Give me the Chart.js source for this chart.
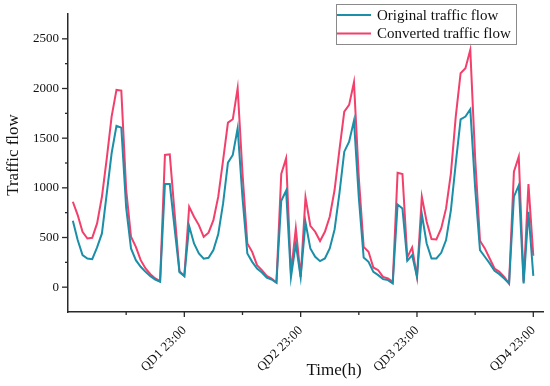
<!DOCTYPE html>
<html>
<head>
<meta charset="utf-8">
<script src="https://cdn.jsdelivr.net/npm/chart.js@4"></script>
<style>
  html, body { margin: 0; padding: 0; background: #fff; }
  #wrap { width: 550px; height: 386px; }
</style>
</head>
<body>
<div id="wrap"><canvas id="flowChart" width="550" height="386"></canvas></div>
<script>
// Hourly traffic flow over four days (QD1..QD4)
const originalFlow = [
    668, 474, 323, 289, 282, 400, 541, 944, 1348, 1623, 1606, 800, 390, 272, 205, 154, 111, 77, 54, 1038, 1038, 590, 150, 111,
    615, 440, 339, 286, 296, 373, 534, 843, 1253, 1331, 1600, 900, 339, 255, 188, 148, 97, 77, 44, 870, 971, 100, 435, 98,
    652, 390, 306, 262, 289, 390, 581, 944, 1364, 1465, 1677, 900, 299, 255, 154, 121, 81, 71, 37, 833, 793, 265, 323, 104,
    736, 440, 289, 289, 346, 474, 776, 1247, 1690, 1717, 1791, 1000, 373, 306, 239, 165, 131, 87, 37, 911, 1025, 37, 759, 114
];
const convertedFlow = [
    860, 726, 557, 490, 497, 642, 910, 1297, 1717, 1986, 1979, 980, 507, 406, 272, 188, 131, 88, 60, 1331, 1337, 740, 160, 112,
    810, 709, 625, 507, 548, 675, 911, 1280, 1656, 1690, 2003, 1150, 440, 356, 222, 171, 114, 87, 47, 1139, 1297, 140, 591, 104,
    904, 618, 558, 464, 558, 709, 978, 1381, 1767, 1835, 2063, 1100, 406, 356, 198, 171, 104, 87, 54, 1152, 1139, 299, 400, 104,
    911, 659, 484, 480, 591, 793, 1146, 1717, 2154, 2204, 2389, 1300, 467, 390, 289, 188, 154, 104, 37, 1163, 1314, 54, 1038, 316
];
const hours = originalFlow.map((_, i) => i);

const xMajorTicks = [23, 47, 71, 95];
const xTickLabels = ['QD1 23:00', 'QD2 23:00', 'QD3 23:00', 'QD4 23:00'];
const xMinorTicks = [11, 35, 59, 83];
const yMajorTicks = [0, 500, 1000, 1500, 2000, 2500];
const yMinorTicks = [250, 750, 1250, 1750, 2250];

const seriesNames = ['Original traffic flow', 'Converted traffic flow'];
const seriesColors = ['#1b8ea8', '#f23f6b'];

const SERIF = "'Liberation Serif', 'Times New Roman', serif";
const AXIS_COLOR = '#2a2a2a';

// Tick marks, axis titles and the boxed legend
const decorPlugin = {
    id: 'decor',
    afterDraw(chart) {
        const ctx = chart.ctx;
        const xs = chart.scales.x;
        const ys = chart.scales.y;
        const area = chart.chartArea;

        ctx.save();
        ctx.strokeStyle = AXIS_COLOR;
        ctx.lineWidth = 1.3;
        const tick = (x1, y1, x2, y2) => {
            ctx.beginPath();
            ctx.moveTo(x1, y1);
            ctx.lineTo(x2, y2);
            ctx.stroke();
        };
        yMajorTicks.forEach(v => { const y = ys.getPixelForValue(v); tick(area.left - 6, y, area.left, y); });
        yMinorTicks.forEach(v => { const y = ys.getPixelForValue(v); tick(area.left - 3, y, area.left, y); });
        xMajorTicks.forEach(v => { const x = xs.getPixelForValue(v); tick(x, area.bottom, x, area.bottom + 5); });
        xMinorTicks.forEach(v => { const x = xs.getPixelForValue(v); tick(x, area.bottom, x, area.bottom + 3); });

        // axis titles
        ctx.fillStyle = '#111';
        ctx.font = '17px ' + SERIF;
        ctx.textAlign = 'center';
        ctx.textBaseline = 'middle';
        ctx.fillText('Time(h)', 334, 371);
        ctx.save();
        ctx.translate(14, 155);
        ctx.rotate(-Math.PI / 2);
        ctx.fillText('Traffic flow', 0, 0);
        ctx.restore();

        // legend
        ctx.strokeStyle = '#8a8a8a';
        ctx.lineWidth = 1;
        ctx.strokeRect(336.5, 4.5, 180, 40);
        ctx.font = '15px ' + SERIF;
        ctx.textAlign = 'left';
        const rows = [15, 33.5];
        seriesNames.forEach((name, i) => {
            ctx.strokeStyle = seriesColors[i];
            ctx.lineWidth = 2;
            tick(337, rows[i], 371, rows[i]);
            ctx.fillStyle = '#111';
            ctx.fillText(name, 377, rows[i] + 1);
        });
        ctx.restore();
    }
};

new Chart(document.getElementById('flowChart').getContext('2d'), {
    type: 'line',
    data: {
        labels: hours,
        datasets: [
            { label: seriesNames[0], data: originalFlow, borderColor: seriesColors[0], borderWidth: 2, pointRadius: 0, tension: 0, fill: false },
            { label: seriesNames[1], data: convertedFlow, borderColor: seriesColors[1], borderWidth: 2, pointRadius: 0, tension: 0, fill: false }
        ]
    },
    options: {
        responsive: false,
        animation: false,
        devicePixelRatio: 1,
        layout: { padding: { top: 14, right: 7, left: 0, bottom: 0 } },
        plugins: {
            legend: { display: false },
            tooltip: { enabled: false }
        },
        scales: {
            x: {
                type: 'linear',
                min: -1,
                max: 97,
                grid: { display: false, drawTicks: false },
                border: { display: true, color: AXIS_COLOR, width: 1.5 },
                afterBuildTicks: scale => { scale.ticks = xMajorTicks.map(v => ({ value: v })); },
                afterFit: scale => {
                    scale.height = 74;
                    scale.paddingLeft = 0;
                    scale.paddingRight = 0;
                },
                ticks: {
                    autoSkip: false,
                    minRotation: 45,
                    maxRotation: 45,
                    padding: 11,
                    color: '#111',
                    font: { family: SERIF, size: 13 },
                    callback: value => xTickLabels[xMajorTicks.indexOf(value)]
                }
            },
            y: {
                min: -250,
                max: 2750,
                grid: { display: false, drawTicks: false },
                border: { display: true, color: AXIS_COLOR, width: 1.5 },
                afterBuildTicks: scale => { scale.ticks = yMajorTicks.map(v => ({ value: v })); },
                afterFit: scale => {
                    scale.width = 68;
                    scale.paddingTop = 0;
                    scale.paddingBottom = 0;
                },
                ticks: {
                    padding: 9,
                    color: '#111',
                    font: { family: SERIF, size: 13 },
                    callback: value => String(value)
                }
            }
        }
    },
    plugins: [decorPlugin]
});
</script>
</body>
</html>
